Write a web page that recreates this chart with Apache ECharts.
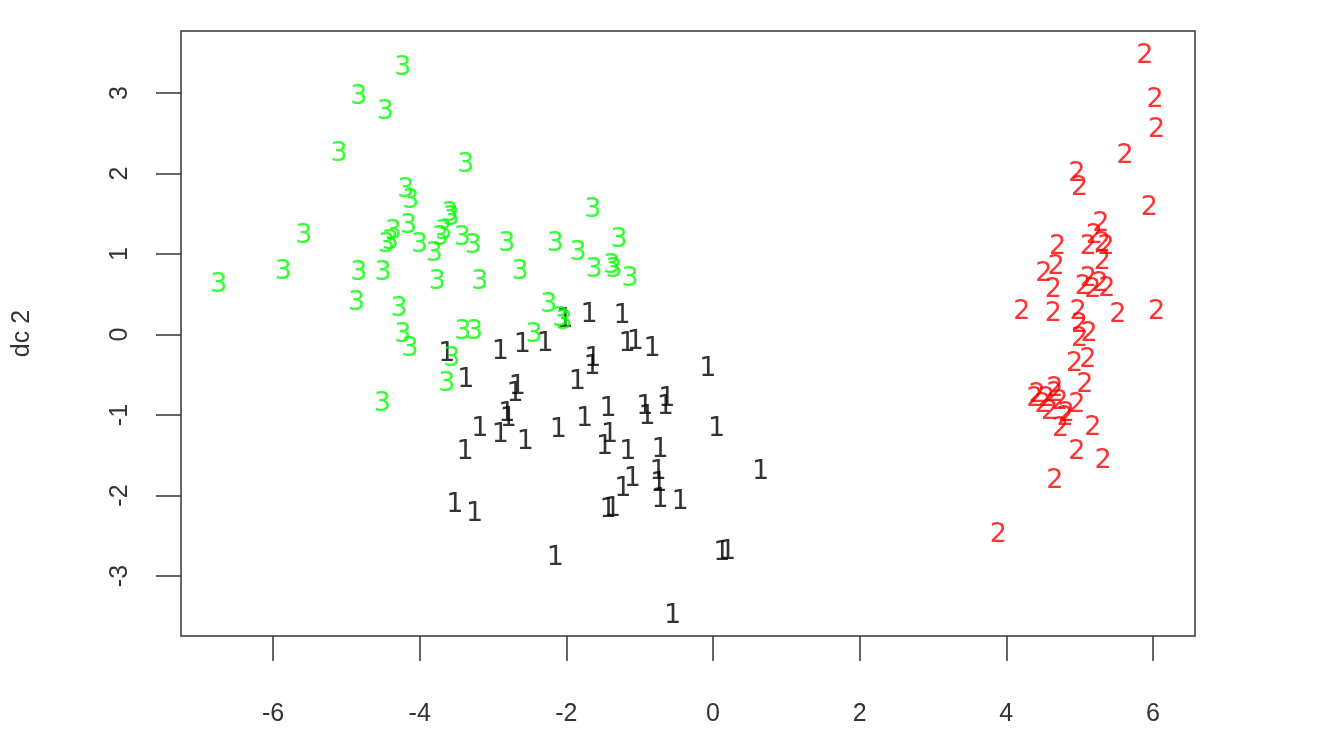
<!DOCTYPE html>
<html>
<head>
<meta charset="utf-8">
<script src="https://cdn.jsdelivr.net/npm/echarts@6/dist/echarts.min.js"></script>
<style>
  html, body { margin: 0; padding: 0; background: #fff; }
  #chart { width: 1328px; height: 731px; }
</style>
</head>
<body>
<div id="chart"></div>
<script>
// discriminant coordinates, one list per class (label drawn as the class number)
var class1 = [
  [-3.63,-0.22],[-3.37,-0.54],[-2.90,-0.19],[-2.60,-0.11],[-2.29,-0.09],[-2.02,0.20],
  [-1.69,0.27],[-1.24,0.25],[-1.17,-0.09],[-1.06,-0.07],[-0.83,-0.16],[-1.64,-0.28],
  [-1.65,-0.38],[-1.85,-0.57],[-2.67,-0.63],[-0.07,-0.40],[-2.81,-0.96],[-2.79,-1.03],
  [-3.18,-1.15],[-2.90,-1.22],[-2.56,-1.31],[-3.38,-1.44],[-2.11,-1.16],[-1.75,-1.03],
  [-1.43,-0.90],[-1.41,-1.22],[-1.48,-1.37],[-1.16,-1.44],[-0.93,-0.88],[-0.90,-1.00],
  [-0.63,-0.78],[-0.65,-0.88],[-0.72,-1.41],[-0.75,-1.68],[-0.74,-1.83],[-1.10,-1.77],
  [-1.23,-1.89],[-0.72,-2.03],[-1.43,-2.15],[-1.37,-2.14],[-0.45,-2.06],[0.05,-1.15],
  [0.65,-1.68],[-3.52,-2.09],[-3.25,-2.20],[-2.15,-2.75],[0.12,-2.69],[0.20,-2.68],
  [-0.55,-3.47],[-2.70,-0.72]
];
var class2 = [
  [5.89,3.48],[6.03,2.94],[6.05,2.56],[5.62,2.24],[4.96,2.02],[5.00,1.84],[5.95,1.60],
  [5.29,1.40],[5.31,1.15],[5.12,1.11],[5.36,1.11],[4.70,1.11],[5.31,0.92],[4.68,0.86],
  [4.51,0.78],[5.12,0.71],[5.28,0.65],[5.37,0.59],[5.18,0.58],[4.64,0.58],[5.05,0.61],
  [4.21,0.30],[4.64,0.28],[4.98,0.30],[5.52,0.27],[6.05,0.30],[5.00,0.14],[5.13,0.03],
  [5.00,-0.03],[4.93,-0.34],[5.11,-0.29],[5.07,-0.60],[4.42,-0.73],[4.66,-0.65],
  [4.55,-0.78],[4.73,-0.81],[4.96,-0.85],[4.59,-0.94],[4.82,-0.96],[4.39,-0.78],
  [4.50,-0.85],[4.74,-1.15],[5.18,-1.14],[4.80,-1.01],[4.96,-1.43],[5.32,-1.55],
  [4.66,-1.80],[3.89,-2.47],[4.66,-0.72],[5.20,1.25]
];
var class3 = [
  [-4.23,3.34],[-4.83,2.97],[-4.47,2.79],[-5.10,2.27],[-3.37,2.13],[-4.19,1.82],
  [-4.12,1.68],[-3.59,1.52],[-3.57,1.47],[-1.64,1.57],[-5.58,1.25],[-4.36,1.30],
  [-4.15,1.37],[-4.45,1.14],[-4.00,1.14],[-3.80,1.02],[-3.72,1.22],[-3.67,1.30],
  [-3.42,1.22],[-3.27,1.12],[-2.81,1.15],[-2.15,1.15],[-1.28,1.20],[-1.84,1.04],
  [-1.62,0.83],[-1.38,0.88],[-1.35,0.83],[-1.13,0.71],[-2.63,0.80],[-5.86,0.80],
  [-6.74,0.64],[-4.83,0.79],[-4.50,0.79],[-3.76,0.68],[-3.18,0.68],[-4.86,0.42],
  [-4.28,0.34],[-2.24,0.39],[-2.03,0.18],[-4.23,0.02],[-3.41,0.06],[-3.25,0.06],
  [-2.44,0.02],[-4.13,-0.16],[-3.56,-0.28],[-3.63,-0.59],[-4.51,-0.84],[-4.40,1.18],
  [-2.08,0.22]
];

var xTicks = [-6, -4, -2, 0, 2, 4, 6];
var yTicks = [-3, -2, -1, 0, 1, 2, 3];
var classNames = ['1', '2', '3'];
var classColors = ['#000000', '#ff0000', '#00ff00'];

var chart = echarts.init(document.getElementById('chart'));

function textSeries(data, i) {
  return {
    type: 'scatter',
    data: data,
    symbolSize: 1,
    itemStyle: { color: 'rgba(0,0,0,0)' },
    silent: true,
    label: {
      show: true,
      position: 'inside',
      offset: [0, 2],
      formatter: classNames[i],
      color: classColors[i],
      textBorderWidth: 0,
      fontFamily: 'DejaVu Sans',
      fontSize: 27
    }
  };
}

chart.setOption({
  animation: false,
  grid: {
    left: 181, right: 133, top: 31, bottom: 95,
    show: true, borderColor: '#333', borderWidth: 1.5
  },
  xAxis: {
    type: 'value',
    position: 'bottom',
    min: -7.255, max: 6.573,
    axisLine: { show: false, onZero: false },
    splitLine: { show: false },
    axisTick: { show: true, length: 25, customValues: xTicks, lineStyle: { color: '#333', width: 1.5 } },
    axisLabel: { customValues: xTicks, margin: 66, color: '#333', fontSize: 25, fontFamily: 'Liberation Sans' }
  },
  yAxis: {
    type: 'value',
    position: 'left',
    min: -3.745, max: 3.77,
    name: 'dc 2',
    nameLocation: 'middle',
    nameGap: 146,
    nameRotate: 90,
    nameTextStyle: { color: '#333', fontSize: 25, fontFamily: 'Liberation Sans' },
    axisLine: { show: false, onZero: false },
    splitLine: { show: false },
    axisTick: { show: true, length: 25, customValues: yTicks, lineStyle: { color: '#333', width: 1.5 } },
    axisLabel: { customValues: yTicks, rotate: 90, margin: 48, color: '#333', fontSize: 25, fontFamily: 'Liberation Sans' }
  },
  series: [textSeries(class1, 0), textSeries(class2, 1), textSeries(class3, 2)]
});
</script>
</body>
</html>
